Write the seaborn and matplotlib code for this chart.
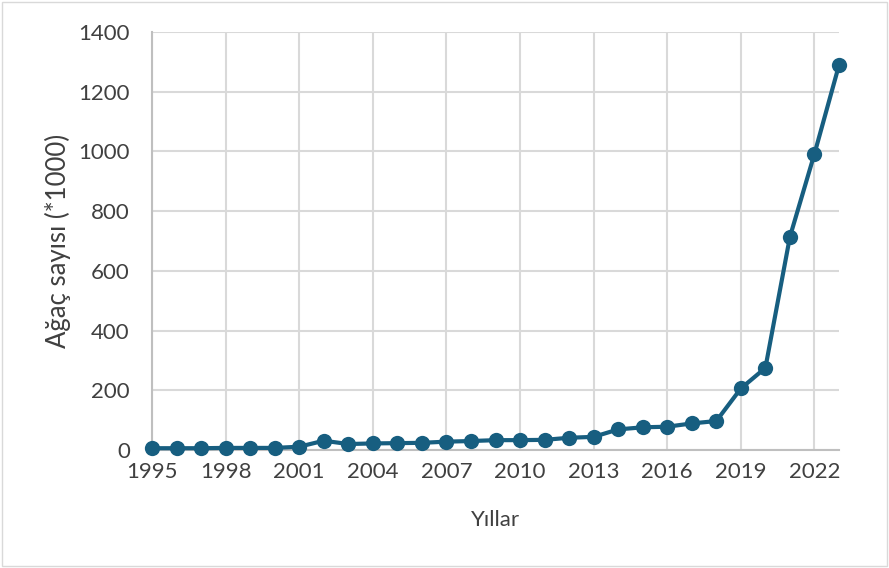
import matplotlib
matplotlib.use("Agg")
import matplotlib.pyplot as plt
import seaborn as sns
import pandas as pd
from matplotlib.patches import Rectangle

years = list(range(1995, 2024))
trees = [6, 6, 6, 7, 7, 7, 11, 31, 20, 22, 23, 24, 28, 30, 33,
         33, 34, 41, 44, 69, 76, 78, 89, 97, 206, 275, 714, 992, 1289]
x_ticks = list(range(1995, 2023, 3))
y_ticks = list(range(0, 1401, 200))

df = pd.DataFrame({"Yıl": years, "Ağaç": trees})

sns.set_theme(style="white")
plt.rcParams['font.family'] = ['Lato', 'DejaVu Sans']

fig = plt.figure(figsize=(8.89, 5.68), dpi=100)
W, H = 889, 568
ax = fig.add_axes([152 / W, (H - 450) / H, (839 - 152) / W, (450 - 32) / H])

color = "#175E80"
sns.lineplot(data=df, x="Yıl", y="Ağaç", ax=ax, color=color, linewidth=3,
             marker="o", markersize=11, markeredgewidth=0, markeredgecolor=color,
             zorder=3, clip_on=False)

ax.set_xlim(1995, 2023)
ax.set_ylim(0, 1400)
ax.set_xticks(x_ticks)
ax.set_yticks(y_ticks)
ax.grid(True, color="#D9D9D9", linewidth=1.5)
ax.set_axisbelow(True)
for s in ["top", "right"]:
    ax.spines[s].set_visible(False)
for s in ["left", "bottom"]:
    ax.spines[s].set_color("#BFBFBF")
    ax.spines[s].set_linewidth(1.5)
ax.tick_params(axis="both", length=0, labelsize=16, labelcolor="#404040")
ax.tick_params(axis="x", pad=9)
ax.tick_params(axis="y", pad=16)
ax.set_xlabel("Yıllar", fontsize=16, color="#404040")
ax.set_ylabel("Ağaç sayısı (*1000)", fontsize=18.5, color="#404040")
ax.xaxis.set_label_coords(0.5, (450 - 520) / 418)
ax.xaxis.label.set_va("center")
ax.yaxis.set_label_coords((58 - 152) / 687, 0.5)
ax.yaxis.label.set_va("center")

fig.patches.append(Rectangle((2 / W, 2 / H), (W - 4) / W, (H - 4) / H, transform=fig.transFigure,
                             fill=False, edgecolor="#D9D9D9", linewidth=1))

fig.savefig("out.png", dpi=100)
